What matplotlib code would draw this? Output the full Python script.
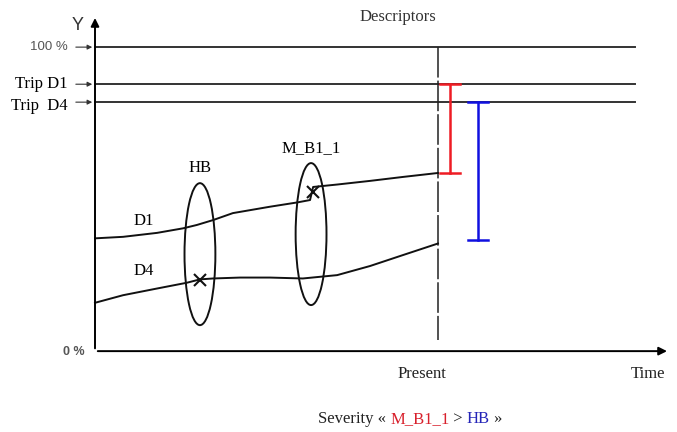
import numpy as np
import matplotlib
matplotlib.use('Agg')
import matplotlib.pyplot as plt
from matplotlib.patches import Ellipse

# descriptor curves (time units, Present = 10 ; value in %)
d1_time = [0.0, 0.82, 1.81, 2.57, 2.97, 3.44, 4.02, 5.10, 5.89, 6.27, 6.36, 7.06, 8.02, 8.98, 10.0]
d1_value = [37.1, 37.6, 38.9, 40.4, 41.5, 43.1, 45.4, 47.5, 48.9, 49.7, 54.0, 54.8, 56.0, 57.3, 58.6]
d4_time = [0.0, 0.82, 1.81, 2.68, 3.06, 3.44, 4.23, 5.10, 6.06, 7.06, 8.02, 8.98, 10.0]
d4_value = [15.9, 18.4, 20.6, 22.5, 23.6, 23.9, 24.2, 24.2, 23.9, 25.0, 28.0, 31.6, 35.4]

present = 10.0
level_names = ['100 %', 'Trip D1', 'Trip  D4']
level_values = [100.0, 87.8, 81.9]

# severity ranges at present
d1_range = (87.8, 58.6)
d4_range = (81.9, 36.5)

# events: name, centre time, centre value, marker time, marker value
events = ['HB', 'M_B1_1']
event_time = [3.06, 6.30]
event_center = [31.9, 38.5]
marker_time = [3.06, 6.36]
marker_value = [23.4, 52.3]

serif = 'Liberation Serif'
sans = 'Liberation Sans'
lw = 1.4

fig = plt.figure(figsize=(6.77, 4.32), dpi=100)
ax = fig.add_axes([0, 0, 1, 1])
ax.set_xlim(-2.77, 16.97)
ax.set_ylim(-26.6, 115.5)
ax.axis('off')

# axes with arrows
ax.annotate('', xy=(16.76, 0), xytext=(0, 0),
            arrowprops=dict(arrowstyle='-|>', lw=lw, color='black', mutation_scale=12))
ax.annotate('', xy=(0, 110.5), xytext=(0, 0),
            arrowprops=dict(arrowstyle='-|>', lw=lw, color='black', mutation_scale=12))
ax.text(-0.50, 107.2, 'Y', family=sans, fontsize=13, ha='center', va='center', color='#333333')
ax.text(-0.29, -0.3, '0 %', family=sans, fontsize=9, ha='right', va='center',
        color='#555555', fontweight='bold')

# levels
for name, val in zip(level_names, level_values):
    ax.plot([0, 15.74], [val, val], color='#333333', lw=lw)
    ax.annotate('', xy=(0, val), xytext=(-0.64, val),
                arrowprops=dict(arrowstyle='-|>', lw=0.8, color='#333333', mutation_scale=7))
    if name.startswith('100'):
        ax.text(-0.79, val, name, family=sans, fontsize=9.5, ha='right', va='center', color='#555555')
    elif name.endswith('D4'):
        ax.text(-0.79, val - 1.3, name, family=serif, fontsize=12, ha='right', va='center')
    else:
        ax.text(-0.79, val, name, family=serif, fontsize=12, ha='right', va='center')

# present line
ax.plot([present, present], [100, 3.6], color='#222222', lw=1.1, linestyle=(0, (20, 2)))

# curves
ax.plot(d1_time, d1_value, color='#111111', lw=lw)
ax.plot(d4_time, d4_value, color='#111111', lw=lw)
ax.text(1.43, 42.8, 'D1', family=serif, fontsize=12, ha='center', va='center')
ax.text(1.43, 26.3, 'D4', family=serif, fontsize=12, ha='center', va='center')

# events
for name, t, c, mt, mv in zip(events, event_time, event_center, marker_time, marker_value):
    ax.add_patch(Ellipse((t, c), 0.9, 46.7, fill=False, lw=lw, color='#111111'))
    ax.plot(mt, mv, marker='x', color='#111111', markersize=8, mew=1.5)
    ax.text(t, c + 28.2, name, family=serif, fontsize=12, ha='center', va='center')

# severity brackets
for x, (top, bot), col in [(10.35, d1_range, '#ee1c24'), (11.17, d4_range, '#1010e0')]:
    ax.plot([x, x], [top, bot], color=col, lw=1.8)
    ax.plot([x - 0.28, x + 0.28], [top, top], color=col, lw=1.8)
    ax.plot([x - 0.28, x + 0.28], [bot, bot], color=col, lw=1.8)

ax.text(8.83, 109.9, 'Descriptors', family=serif, fontsize=12, ha='center', va='center', color='#333333')
ax.text(9.53, -7.6, 'Present', family=serif, fontsize=12, ha='center', va='center', color='#222222')
ax.text(16.12, -7.6, 'Time', family=serif, fontsize=12, ha='center', va='center', color='#222222')

# severity caption, coloured pieces
parts = [('Severity « ', '#222222'), ('M_B1_1', '#d8202c'), (' > ', '#222222'),
         ('HB', '#2424b8'), (' »', '#222222')]
renderer = fig.canvas.get_renderer()
x0 = 318
for s, col in parts:
    t = fig.text(x0 / 677, 1 - 419 / 432, s, family=serif, fontsize=12, color=col,
                 ha='left', va='center')
    bb = t.get_window_extent(renderer)
    x0 += bb.width

fig.savefig('out.png', dpi=100)
